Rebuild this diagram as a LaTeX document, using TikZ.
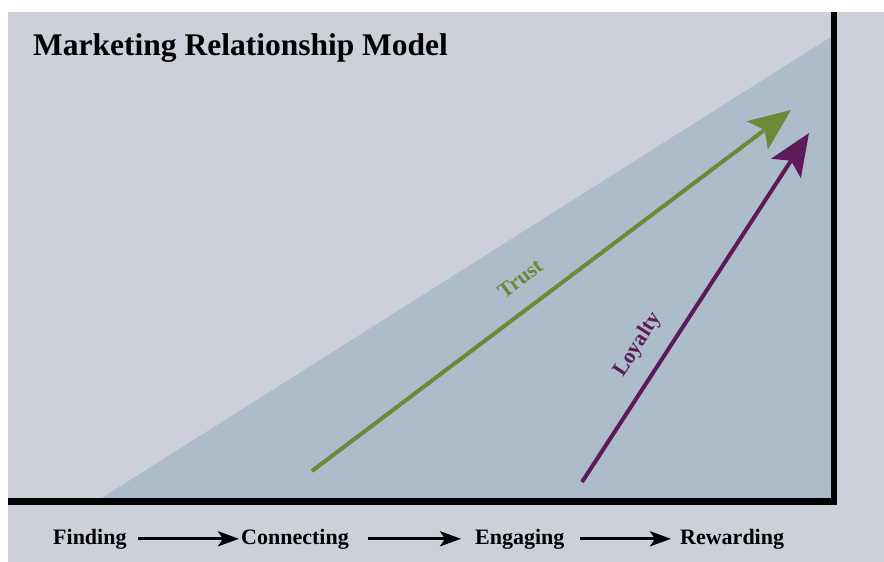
\documentclass[tikz,border=0pt]{standalone}
\usepackage{fontspec}
\setmainfont{Liberation Serif}
\usetikzlibrary{arrows.meta,positioning}

\definecolor{panelgrey}{RGB}{205,208,217}
\definecolor{wedgeblue}{RGB}{172,188,202}
\definecolor{trustgreen}{RGB}{107,137,56}
\definecolor{loyaltypurple}{RGB}{94,26,88}

\begin{document}
\begin{tikzpicture}[x=1pt, y=-1pt, every node/.style={font=\bfseries}]
    % Styles
    \tikzstyle{heading} = [inner sep=0pt, anchor=base west, font=\fontsize{31.5}{36}\selectfont\bfseries]
    \tikzstyle{stage} = [inner sep=0pt, anchor=base west, font=\fontsize{22}{24}\selectfont\bfseries]
    \tikzstyle{flow} = [line width=3pt, -{Stealth[length=21pt, width=15pt, inset=5pt]}]
    \tikzstyle{growth} = [line width=4pt, -{Stealth[length=42pt, width=35pt, inset=9pt]}]
    \tikzstyle{growthlabel} = [sloped, inner sep=0pt, font=\fontsize{21.5}{23}\selectfont\bfseries]

    \useasboundingbox (0,0) rectangle (884,562);

    % Background and wedge
    \fill[panelgrey] (8,12) rectangle (884,562);
    \fill[wedgeblue] (97,501) -- (834,35) -- (834,501) -- cycle;

    % Axes
    \draw[line width=6.5pt] (8,501.5) -- (834,501.5) -- (834,12);

    % Title
    \node (title) [heading] at (33,55) {Marketing Relationship Model};

    % Trust and loyalty
    \coordinate (truststart) at (312,471);
    \coordinate (trustend) at (791,110);
    \coordinate (loyaltystart) at (582,482);
    \coordinate (loyaltyend) at (809,133);
    \draw [growth, trustgreen] (truststart) -- node (trust) [growthlabel, pos=0.47, above=19pt, text=trustgreen] {Trust} (trustend);
    \draw [growth, loyaltypurple] (loyaltystart) -- node (loyalty) [growthlabel, pos=0.35, above=16pt, text=loyaltypurple] {Loyalty} (loyaltyend);

    % Stages
    \node (finding)    [stage] at (53,544)  {Finding};
    \node (connecting) [stage] at (241,544) {Connecting};
    \node (engaging)   [stage] at (475,544) {Engaging};
    \node (rewarding)  [stage] at (680,544) {Rewarding};

    % Arrows
    \draw [flow, shorten <=11.5pt, shorten >=2pt] (finding.east) -- (connecting.west);
    \draw [flow, shorten <=19.5pt, shorten >=14pt] (connecting.east) -- (engaging.west);
    \draw [flow, shorten <=15pt, shorten >=9pt] (engaging.east) -- (rewarding.west);
\end{tikzpicture}
\end{document}
